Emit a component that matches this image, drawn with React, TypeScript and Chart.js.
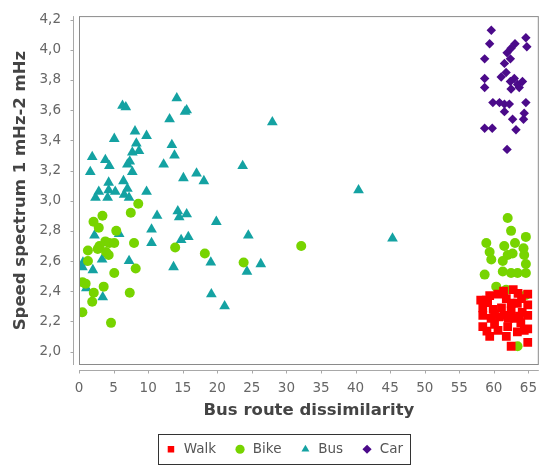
import React, { useEffect, useRef } from "react";
import { Chart, registerables } from "chart.js";

Chart.register(...registerables);

const FONT = "'DejaVu Sans', 'Noto Sans', sans-serif";

const seriesNames = ["Walk", "Bike", "Bus", "Car"];
const seriesColors = ["#ff0000", "#77d400", "#14a2a2", "#4b0a8a"];

const xTickValues = [0, 5, 10, 15, 20, 25, 30, 35, 40, 45, 50, 55, 60, 65];
const yTickValues = [2.0, 2.2, 2.4, 2.6, 2.8, 3.0, 3.2, 3.4, 3.6, 3.8, 4.0, 4.2];

const xTitle = "Bus route dissimilarity";
const yTitle = "Speed spectrum 1 mHz-2 mHz";

const walkX = [62.8, 64.9, 59.4, 60.6, 61.8, 58.4, 64.9, 63.4, 59.9, 61.1, 62.5, 64.1, 58.4, 59.6, 61.5, 63.0, 64.9, 58.4, 60.1, 62.0, 63.9, 64.9, 59.4, 61.8, 62.5, 64.9, 60.6, 63.4, 60.8, 58.9, 59.1, 62.5, 64.0, 60.1, 62.1, 63.7, 59.0, 64.4, 58.1, 61.4, 63.5];
const walkY = [2.41, 2.38, 2.37, 2.38, 2.35, 2.29, 2.31, 2.32, 2.28, 2.29, 2.27, 2.26, 2.24, 2.22, 2.24, 2.22, 2.24, 2.165, 2.18, 2.165, 2.19, 2.15, 2.10, 2.10, 2.035, 2.06, 2.14, 2.13, 2.23, 2.34, 2.325, 2.32, 2.35, 2.25, 2.22, 2.235, 2.135, 2.14, 2.34, 2.40, 2.385];

const bikeX = [8.57, 7.49, 3.39, 2.1, 2.86, 5.39, 7.96, 3.81, 2.96, 4.39, 5.1, 3.91, 4.29, 2.71, 1.29, 1.29, 8.2, 5.1, 0.49, 0.96, 3.57, 2.14, 1.91, 7.34, 0.49, 4.63, 13.91, 18.2, 23.81, 32.14,
  62.0, 62.49, 58.91, 64.63, 63.06, 59.39, 62.0, 62.71, 64.29, 64.39, 59.63, 61.29, 64.63, 58.67, 61.29, 62.49, 63.43, 64.63, 60.34, 61.77, 64.63, 63.43, 61.5];
const bikeY = [2.98, 2.92, 2.90, 2.86, 2.82, 2.80, 2.72, 2.73, 2.70, 2.72, 2.72, 2.66, 2.64, 2.68, 2.67, 2.60, 2.55, 2.52, 2.46, 2.45, 2.43, 2.39, 2.33, 2.39, 2.26, 2.19, 2.69, 2.65, 2.59, 2.70,
  2.885, 2.80, 2.72, 2.76, 2.72, 2.66, 2.64, 2.65, 2.685, 2.64, 2.61, 2.60, 2.58, 2.51, 2.53, 2.52, 2.52, 2.52, 2.43, 2.41, 2.375, 2.035, 2.70];

const busX = [6.29, 6.77, 14.14, 15.57, 15.34, 13.1, 27.96, 5.1, 8.1, 9.77, 8.29, 13.43, 1.91, 3.81, 4.39, 7.71, 8.67, 7.34, 7.0, 7.71, 13.81, 12.24, 23.67, 1.63, 17.0, 15.1, 18.06, 4.29, 6.43, 40.43, 2.86, 4.29, 5.24, 7.0, 9.77, 2.39, 4.14, 6.53, 7.24, 11.29, 14.29, 14.49, 15.57, 19.86, 10.49, 10.49, 2.24, 5.81, 14.77, 15.81, 24.49, 45.34, 7.24, 0.57, 0.49, 2.0, 3.34, 13.67, 19.06, 24.29, 26.29, 1.06, 3.43, 19.14, 21.06];
const busY = [3.63, 3.62, 3.68, 3.60, 3.59, 3.54, 3.52, 3.41, 3.46, 3.43, 3.38, 3.37, 3.29, 3.27, 3.23, 3.32, 3.33, 3.26, 3.24, 3.19, 3.30, 3.24, 3.23, 3.19, 3.18, 3.15, 3.13, 3.12, 3.13, 3.07, 3.06, 3.07, 3.06, 3.08, 3.06, 3.02, 3.02, 3.04, 3.02, 2.90, 2.93, 2.89, 2.91, 2.86, 2.81, 2.72, 2.77, 2.78, 2.74, 2.76, 2.77, 2.75, 2.60, 2.59, 2.56, 2.54, 2.61, 2.56, 2.59, 2.53, 2.58, 2.42, 2.36, 2.38, 2.30];

const carX = [59.63, 59.39, 64.63, 64.77, 63.06, 62.49, 61.91, 58.67, 61.53, 62.39, 61.06, 61.77, 58.67, 58.67, 62.39, 62.96, 63.43, 62.49, 64.14, 63.67, 59.86, 60.81, 61.53, 62.24, 61.53, 64.63, 64.39, 64.29, 62.71, 58.67, 59.77, 63.2, 61.91];
const carY = [4.13, 4.04, 4.08, 4.02, 4.04, 4.01, 3.98, 3.94, 3.91, 3.94, 3.82, 3.85, 3.81, 3.75, 3.79, 3.81, 3.77, 3.74, 3.79, 3.75, 3.65, 3.65, 3.64, 3.64, 3.59, 3.65, 3.58, 3.54, 3.54, 3.48, 3.48, 3.47, 3.34];

const pointStyles = ["rect", "circle", "triangle", "rectRot"];
const pointRadii = [6.2, 5, 6.2, 4.7];

function toPoints(xs: number[], ys: number[]) {
  return xs.map((x, i) => ({ x, y: ys[i] }));
}

const framePlugin = {
  id: "frame",
  afterDraw(chart: any) {
    const { ctx, chartArea: a, scales } = chart;
    ctx.save();
    ctx.strokeStyle = "#8a8a8a";
    ctx.lineWidth = 1;
    ctx.strokeRect(a.left + 0.5, a.top + 0.5, a.right - a.left - 1, a.bottom - a.top - 1);
    ctx.strokeStyle = "#a8a8a8";
    const yx = a.left - 6 + 0.5;
    ctx.beginPath();
    ctx.moveTo(yx, a.top);
    ctx.lineTo(yx, a.bottom);
    yTickValues.forEach((v) => {
      const py = Math.round(scales.y.getPixelForValue(v)) + 0.5;
      ctx.moveTo(yx - 3, py);
      ctx.lineTo(yx, py);
    });
    const xy = a.bottom + 5 + 0.5;
    ctx.moveTo(a.left, xy);
    ctx.lineTo(a.right, xy);
    xTickValues.forEach((v) => {
      const px = Math.round(scales.x.getPixelForValue(v)) + 0.5;
      ctx.moveTo(px, xy);
      ctx.lineTo(px, xy + 3);
    });
    ctx.stroke();
    const hb = chart.legend && chart.legend.legendHitBoxes;
    if (hb && hb.length) {
      const l = hb[0].left - 7;
      const last = hb[hb.length - 1];
      const r = last.left + last.width + 7;
      const cy = hb[0].top + hb[0].height / 2;
      ctx.strokeStyle = "#333";
      ctx.strokeRect(Math.round(l) + 0.5, Math.round(cy - 15) + 0.5, Math.round(r - l), 30);
    }
    ctx.restore();
  },
};

export default function App() {
  const ref = useRef<HTMLCanvasElement | null>(null);
  useEffect(() => {
    if (!ref.current) return;
    const seriesData = [toPoints(walkX, walkY), toPoints(bikeX, bikeY), toPoints(busX, busY), toPoints(carX, carY)];
    const gridOpts = {
      display: true,
      drawOnChartArea: false,
      drawTicks: true,
      tickLength: 10,
      color: "rgba(0,0,0,0)",
    };
    const chart = new Chart(ref.current, {
      type: "scatter",
      data: {
        datasets: seriesNames.map((name, i) => ({
          label: name,
          data: seriesData[i],
          pointStyle: pointStyles[i] as any,
          pointRadius: pointRadii[i],
          pointHoverRadius: pointRadii[i],
          backgroundColor: seriesColors[i],
          borderColor: seriesColors[i],
          borderWidth: 0,
        })),
      },
      options: {
        animation: false,
        responsive: false,
        devicePixelRatio: 1,
        layout: { padding: { left: 23, top: 10, right: 0, bottom: 0 } },
        plugins: {
          tooltip: { enabled: false },
          legend: {
            display: true,
            position: "bottom",
            labels: {
              usePointStyle: true,
              boxWidth: 12,
              boxHeight: 6.5,
              padding: 18,
              color: "#555",
              font: { family: FONT, size: 13.5 },
              sort: (a: any, b: any) => a.datasetIndex - b.datasetIndex,
            },
          },
        },
        scales: {
          x: {
            type: "linear",
            min: 0,
            max: 66.5,
            afterBuildTicks: (s: any) => {
              s.ticks = xTickValues.map((v) => ({ value: v }));
            },
            afterFit: (s: any) => {
              s.height = 59.5;
            },
            grid: gridOpts,
            border: { display: false },
            ticks: {
              padding: 5,
              color: "#666",
              autoSkip: false,
              maxRotation: 0,
              font: { family: FONT, size: 13.5 },
              callback: (v: any) => String(v),
            },
            title: {
              display: true,
              text: xTitle,
              color: "#444",
              font: { family: FONT, size: 16.5, weight: "bold" },
              padding: { top: 0, bottom: 4 },
            },
          },
          y: {
            type: "linear",
            min: 1.9107,
            max: 4.2235,
            afterBuildTicks: (s: any) => {
              s.ticks = yTickValues.map((v) => ({ value: v }));
            },
            afterFit: (s: any) => {
              s.width = 56;
            },
            grid: gridOpts,
            border: { display: false },
            ticks: {
              padding: 8,
              color: "#666",
              autoSkip: false,
              font: { family: FONT, size: 13.5 },
              callback: (v: any) => Number(v).toFixed(1).replace(".", ","),
            },
            title: {
              display: true,
              text: yTitle,
              color: "#444",
              font: { family: FONT, size: 16.5, weight: "bold" },
              padding: { top: -12, bottom: 0 },
            },
          },
        },
      } as any,
      plugins: [framePlugin],
    });
    return () => chart.destroy();
  }, []);
  return (
    <div style={{ position: "absolute", left: 0, top: 0, width: 545, height: 466, background: "#fff" }}>
      <canvas ref={ref} width={545} height={466} style={{ display: "block", width: 545, height: 466 }} />
    </div>
  );
}
